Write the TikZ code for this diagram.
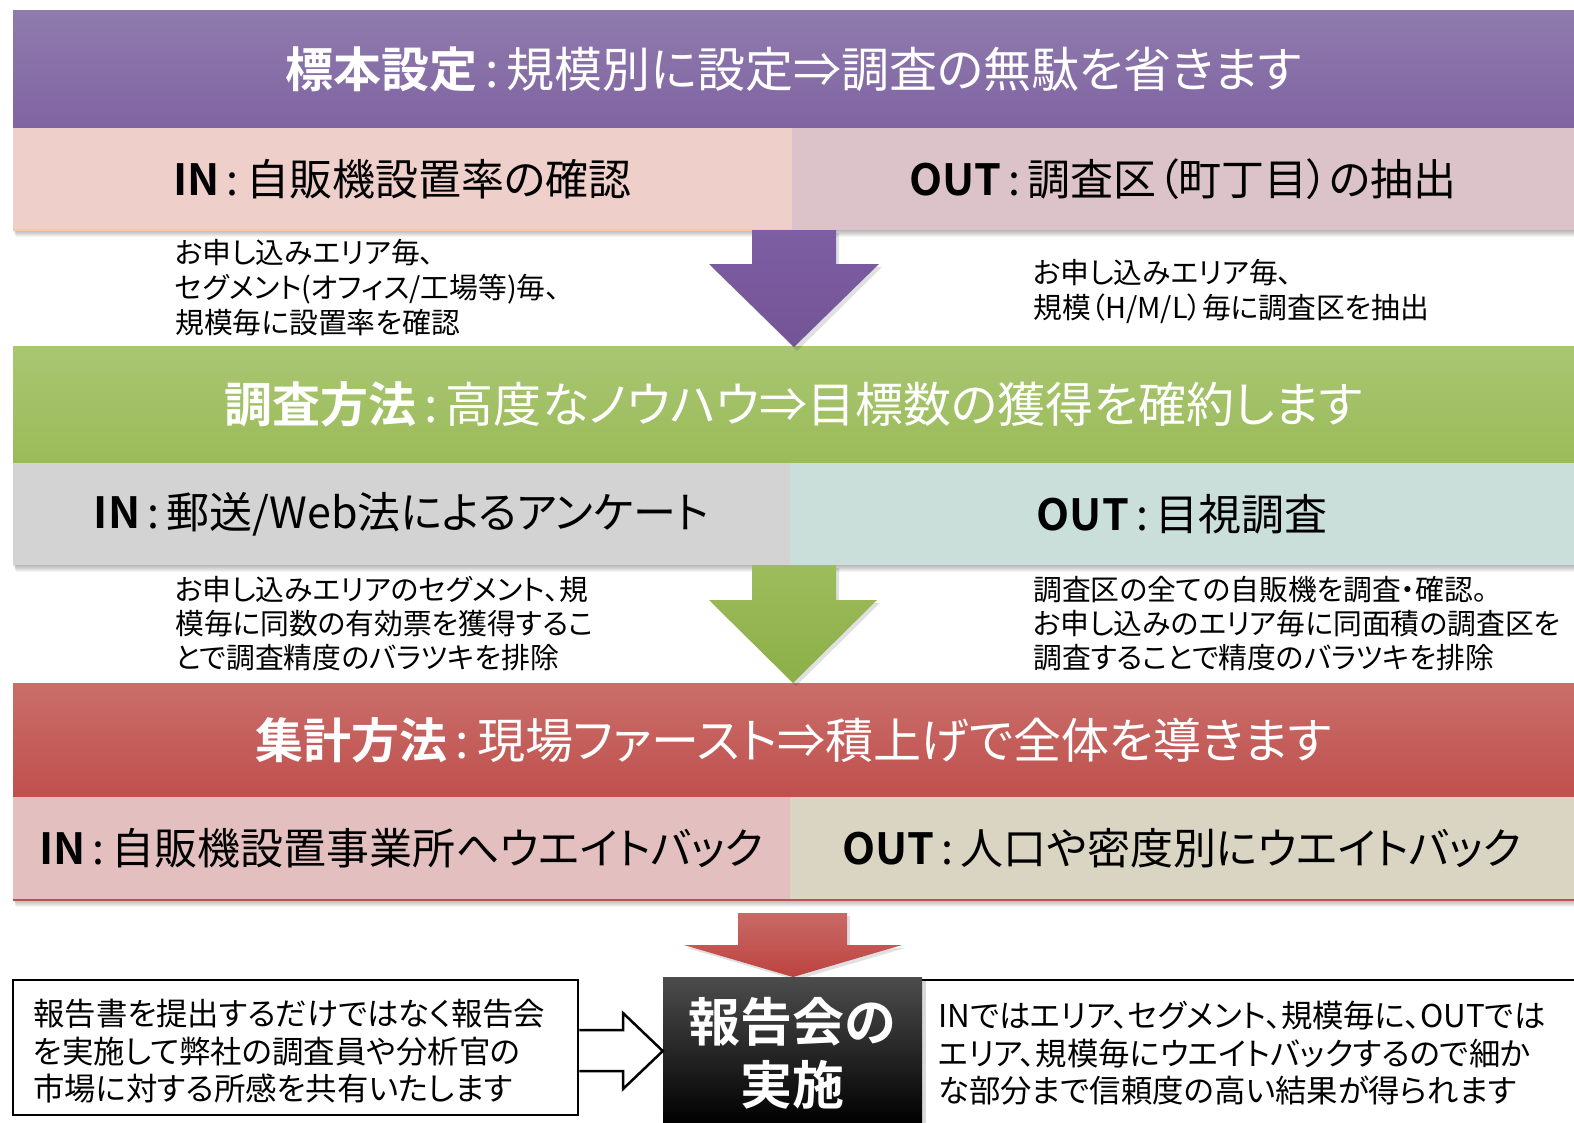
\documentclass[tikz,border=0pt]{standalone}
\usepackage{fontspec}
\setmainfont{Noto Sans CJK JP}[BoldFont={* Bold},RawFeature=+palt]
\definecolor{purT}{HTML}{8F7BAD}
\definecolor{purB}{HTML}{8064A2}
\definecolor{rowAL}{HTML}{EFCFCA}
\definecolor{rowAR}{HTML}{DCC3CA}
\definecolor{greT}{HTML}{A9C672}
\definecolor{greB}{HTML}{9BBB59}
\definecolor{rowBL}{HTML}{D3D3D3}
\definecolor{rowBR}{HTML}{CADFDA}
\definecolor{redT}{HTML}{C96E6A}
\definecolor{redB}{HTML}{C0504D}
\definecolor{rowCL}{HTML}{E3BFBF}
\definecolor{rowCR}{HTML}{DAD5C2}
\definecolor{arPT}{HTML}{7E5EA3}
\definecolor{arPB}{HTML}{735495}
\definecolor{arGT}{HTML}{9DBC5C}
\definecolor{arGB}{HTML}{8CAF48}
\definecolor{arRT}{HTML}{C86A66}
\definecolor{arRB}{HTML}{BD4340}
\definecolor{peach}{HTML}{F5C8A8}
\newcommand\softshadow[4]{%
  \foreach \d in {1,...,7}{%
    \fill[black,opacity=0.045] (#1+\d*0.4,#2+\d) rectangle (#3+\d*0.4,#4+\d);}}
\newcommand\sep{\,:\,}
\begin{document}
\begin{tikzpicture}[x=1pt,y=-1pt,
  hdr/.style={minimum width=1561pt, inner sep=0pt, text=white,
    font=\fontsize{48}{56}\selectfont},
  cell/.style={inner sep=0pt, text=black, font=\fontsize{43}{50}\selectfont},
  note/.style={anchor=north west, align=left, inner sep=0pt,
    font=\fontsize{28.8}{35}\selectfont},
  notetwo/.style={note, font=\fontsize{28.8}{34}\selectfont},
  bignote/.style={anchor=north west, align=left, inner sep=0pt,
    font=\fontsize{31.4}{37.5}\selectfont}]
\useasboundingbox (0,0) rectangle (1574,1122);
\fill[white] (0,0) rectangle (1574,1122);

% shadows
\softshadow{13}{10}{1574}{230}
\softshadow{13}{346}{1574}{565}
\softshadow{13}{683}{1574}{900}

% block 1
\node[hdr, minimum height=118pt, top color=purT, bottom color=purB] (h1) at (793.5,69)
  {\textbf{標本設定}\sep 規模別に設定⇒調査の無駄を省きます};
\node[cell, minimum width=779pt, minimum height=102pt, fill=rowAL] (in1) at (402.5,179)
  {\textbf{IN}\sep 自販機設置率の確認};
\node[cell, minimum width=782pt, minimum height=102pt, fill=rowAR] (out1) at (1183,179)
  {\textbf{OUT}\sep 調査区（町丁目）の抽出};
\draw[peach, line width=1.5pt] (in1.south west) -- (in1.south east);

\node[note] (n1l) at (175,239.5) {お申し込みエリア毎、\\セグメント(オフィス/工場等)毎、\\規模毎に設置率を確認};
\node[note] (n1r) at (1033,259.5) {お申し込みエリア毎、\\規模（H/M/L）毎に調査区を抽出};

% block 2
\node[hdr, minimum height=117pt, top color=greT, bottom color=greB] (h2) at (793.5,404.5)
  {\textbf{調査方法}\sep 高度なノウハウ⇒目標数の獲得を確約します};
\node[cell, minimum width=777pt, minimum height=102pt, fill=rowBL] (in2) at (401.5,514)
  {\textbf{IN}\sep 郵送/Web法によるアンケート};
\node[cell, minimum width=784pt, minimum height=102pt, fill=rowBR] (out2) at (1182,514)
  {\textbf{OUT}\sep 目視調査};

\node[notetwo] (n2l) at (175,576.5) {お申し込みエリアのセグメント、規\\模毎に同数の有効票を獲得するこ\\とで調査精度のバラツキを排除};
\node[notetwo] (n2r) at (1033,576.5) {調査区の全ての自販機を調査・確認。\\お申し込みのエリア毎に同面積の調査区を\\調査することで精度のバラツキを排除};

% block 3
\node[hdr, minimum height=114pt, top color=redT, bottom color=redB] (h3) at (793.5,740)
  {\textbf{集計方法}\sep 現場ファースト⇒積上げで全体を導きます};
\node[cell, minimum width=777pt, minimum height=103pt, fill=rowCL] (in3) at (401.5,848.5)
  {\textbf{IN}\sep 自販機設置事業所へウエイトバック};
\node[cell, minimum width=784pt, minimum height=103pt, fill=rowCR] (out3) at (1182,848.5)
  {\textbf{OUT}\sep 人口や密度別にウエイトバック};
\draw[redB, line width=2pt] (in3.south west) -- (out3.south east);

% down arrows
\fill[black,opacity=0.12] (755,233) -- (839,233) -- (839,267) -- (882,267) -- (797,351) -- (712,267) -- (755,267) -- cycle;
\shade[top color=arPT, bottom color=arPB] (752,230) -- (836,230) -- (836,264) -- (879,264) -- (794,347) -- (709,264) -- (752,264) -- cycle;
\fill[black,opacity=0.12] (755,568) -- (839,568) -- (839,603) -- (880,603) -- (796,686) -- (712,603) -- (755,603) -- cycle;
\shade[top color=arGT, bottom color=arGB] (752,565) -- (836,565) -- (836,600) -- (877,600) -- (793,683) -- (709,600) -- (752,600) -- cycle;
\fill[black,opacity=0.12] (741,916) -- (850,916) -- (850,948) -- (905,948) -- (796,980) -- (687,948) -- (741,948) -- cycle;
\shade[top color=arRT, bottom color=arRB] (738,913) -- (847,913) -- (847,945) -- (902,945) -- (793,977) -- (684,945) -- (738,945) -- cycle;

% bottom row
\fill[white] (920,980) rectangle (1574,1122);
\draw[line width=2.5pt] (920,980) -- (1574,980);
\node[bignote] (rtext) at (938,1001)
  {INではエリア、セグメント、規模毎に、OUTでは\\エリア、規模毎にウエイトバックするので細か\\な部分まで信頼度の高い結果が得られます};

\fill[black,opacity=0.15] (667,981) rectangle (926,1126);
\node[minimum width=259pt, minimum height=147pt, inner sep=0pt,
  top color=black!70, middle color=black, bottom color=black] (blk) at (792.5,1050.5) {};
\node[text=white, align=center, inner sep=0pt, font=\fontsize{52}{63}\selectfont\bfseries] (blkt) at (792,1053)
  {報告会の\\実施};

\node[draw=black, line width=2.5pt, fill=white, minimum width=565pt, minimum height=135pt,
  inner sep=0pt] (lbox) at (295.5,1047.5) {};
\node[bignote] (lboxt) at (33,999)
  {報告書を提出するだけではなく報告会\\を実施して弊社の調査員や分析官の\\市場に対する所感を共有いたします};

\draw[line width=2.5pt, fill=white, line join=miter]
  (lbox.east |- 0,1030) -- (623,1030) -- (623,1013) -- (blk.west |- 0,1051)
  -- (623,1089) -- (623,1071) -- (lbox.east |- 0,1071);
\end{tikzpicture}
\end{document}
